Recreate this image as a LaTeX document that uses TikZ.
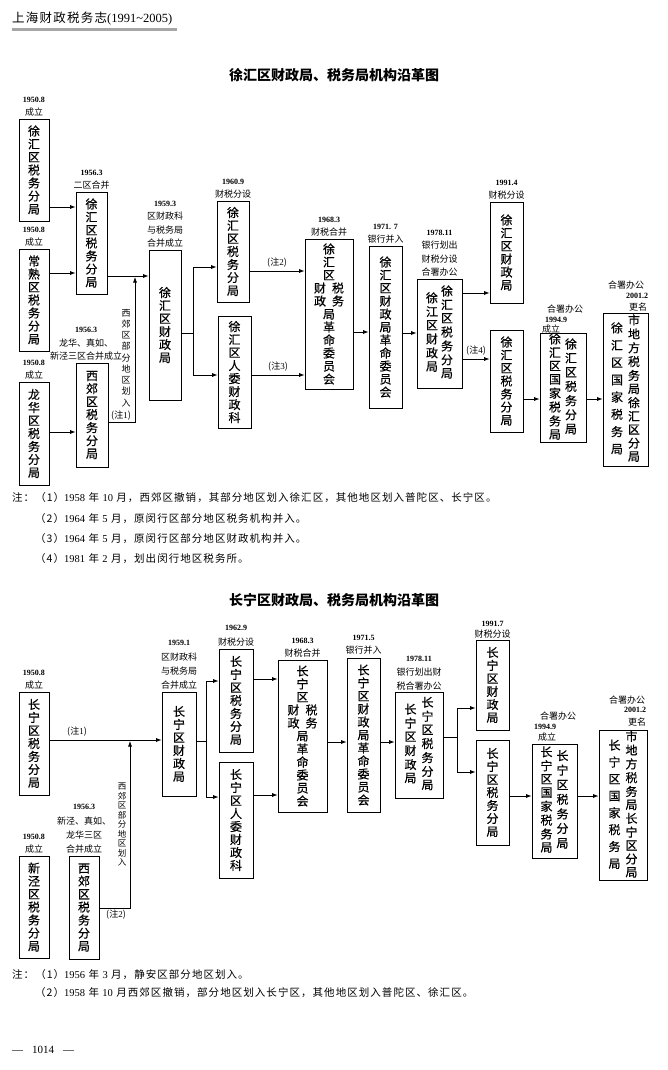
\documentclass[tikz,border=0pt]{standalone}
\usepackage{fontspec}
\setmainfont{Liberation Serif}
\newfontfamily\cjk{Noto Sans CJK SC}
\newfontfamily\cjkbox{Noto Sans CJK SC}[FakeBold=0.5]
\newfontfamily\cjknote{Noto Sans CJK SC}[LetterSpace=10]
\usetikzlibrary{positioning}
\usetikzlibrary{arrows.meta}

\newcommand{\rmd}[1]{{\rmfamily #1}}
\newcommand{\dt}[1]{{\rmfamily\bfseries\fontsize{8}{13}\selectfont #1}}
\newcommand{\vcol}[2][1]{{\renewcommand{\arraystretch}{#1}\begin{tabular}{@{}c@{}}#2\end{tabular}}}

\tikzset{
  office/.style 2 args={draw, line width=0.8pt, inner sep=0pt, align=center, minimum width=#1pt, minimum height=#2pt, font=\cjkbox\fontsize{12}{13}\selectfont},
  tag/.style={align=center, inner sep=0pt, font=\cjk\fontsize{9}{13.5}\selectfont},
  remark/.style={inner sep=0pt, font=\cjk\fontsize{9}{11}\selectfont},
  link/.style={line width=0.7pt, -{Latex[length=5.5pt,width=4pt]}},
  wire/.style={line width=0.7pt},
  notetext/.style={anchor=west, inner sep=0pt, font=\cjknote\fontsize{10.5}{12}\selectfont},
  heading/.style={inner sep=0pt, font=\cjk\bfseries\fontsize{14}{16}\selectfont}
}

\begin{document}
\begin{tikzpicture}[x=1pt, y=-1pt]

\fill[white] (0,0) rectangle (668,1070);
\useasboundingbox (0,0) rectangle (668,1070);

% Running head
\node[anchor=west, inner sep=0pt, font=\cjknote\fontsize{12.5}{14}\selectfont] (runhead) at (12,19) {上海财政税务志\rmd{(1991\textasciitilde 2005)}};
\fill[gray!70] (12,28.5) rectangle (177,31.5);

% ---------------- Xuhui ----------------
\node[heading] (xh_title) at (334,75) {徐汇区财政局、税务局机构沿革图};

% Column 1
\node[office={30}{102}] (xh_tax50) at (34,170) {徐\\汇\\区\\税\\务\\分\\局};
\node[office={30}{102}] (cs_tax) at (34,300) {常\\熟\\区\\税\\务\\分\\局};
\node[office={30}{103}] (lh_tax) at (34,433.5) {龙\\华\\区\\税\\务\\分\\局};
\node[tag, above=2pt of xh_tax50] (xh_tax50_date) {\dt{1950.8}\\成立};
\node[tag, above=2pt of cs_tax] (cs_tax_date) {\dt{1950.8}\\成立};
\node[tag, above=2pt of lh_tax] (lh_tax_date) {\dt{1950.8}\\成立};

% Column 2
\node[office={31}{102}] (xh_tax56) at (91.5,243) {徐\\汇\\区\\税\\务\\分\\局};
\node[office={32}{104}] (xj_tax) at (92,415) {西\\郊\\区\\税\\务\\分\\局};
\node[tag, above=2pt of xh_tax56] (xh_tax56_date) {\dt{1956.3}\\二区合并};
\node[tag, above=2pt of xj_tax, xshift=-6pt] (xj_tax_date) {\dt{1956.3}\\龙华、真如、\\新泾三区合并成立};

% Column 3
\node[office={32}{150}] (xh_fin59) at (165,325) {徐\\汇\\区\\财\\政\\局};
\node[tag, above=2pt of xh_fin59] (xh_fin59_date) {\dt{1959.3}\\区财政科\\与税务局\\合并成立};

% Column 4
\node[office={32}{101}] (xh_tax60) at (233,251.5) {徐\\汇\\区\\税\\务\\分\\局};
\node[office={33}{112}] (xh_rw) at (234.5,372) {徐\\汇\\区\\人\\委\\财\\政\\科};
\node[tag, above=2pt of xh_tax60] (xh_tax60_date) {\dt{1960.9}\\财税分设};

% Columns 5 to 7
\node[office={48}{150}] (xh_rev68) at (329,314) {徐\\汇\\区\\财\hspace{6pt}税\\政\hspace{6pt}务\\局\\革\\命\\委\\员\\会};
\node[office={33}{162}] (xh_rev71) at (385.5,327) {徐\\汇\\区\\财\\政\\局\\革\\命\\委\\员\\会};
\node[office={45}{109}] (xh_joint78) at (439.5,333.5) {\vcol{徐\\江\\区\\财\\政\\局}\hspace{3pt}\vcol{徐\\汇\\区\\税\\务\\分\\局}};
\node[tag, above=2pt of xh_rev68] (xh_rev68_date) {\dt{1968.3}\\财税合并};
\node[tag, above=2pt of xh_rev71] (xh_rev71_date) {\dt{1971. 7}\\银行并入};
\node[tag, above=2pt of xh_joint78] (xh_joint78_date) {\dt{1978.11}\\银行划出\\财税分设\\合署办公};

% Columns 8 to 10
\node[office={33}{101}] (xh_fin91) at (506.5,252.5) {徐\\汇\\区\\财\\政\\局};
\node[office={33}{102}] (xh_tax91) at (506.5,381) {徐\\汇\\区\\税\\务\\分\\局};
\node[office={46}{104}] (xh_joint94) at (563,388) {\vcol[0.98]{徐\\汇\\区\\国\\家\\税\\务\\局}\hspace{4pt}\vcol[1.08]{徐\\汇\\区\\税\\务\\分\\局}};
\node[office={45}{153}] (xh_joint01) at (625.5,389.5) {\vcol[1.33]{徐\\汇\\区\\国\\家\\税\\务\\局}\hspace{5pt}\vcol[0.97]{市\\地\\方\\税\\务\\局\\徐\\汇\\区\\分\\局}};
\node[tag, above=2pt of xh_fin91] (xh_fin91_date) {\dt{1991.4}\\财税分设};
\node[remark] (xh_joint94_a) at (565,309) {合署办公};
\node[remark] (xh_joint94_b) at (556,320) {\dt{1994.9}};
\node[remark] (xh_joint94_c) at (551,329) {成立};
\node[remark] (xh_joint01_a) at (626,285) {合署办公};
\node[remark] (xh_joint01_b) at (637,296) {\dt{2001.2}};
\node[remark] (xh_joint01_c) at (638,307) {更名};

% Connectors
\draw[link] (xh_tax50.east |- 0,207) -- (xh_tax56.west |- 0,207);
\draw[link] (cs_tax.east |- 0,273) -- (xh_tax56.west |- 0,273);
\draw[link] (lh_tax.east |- 0,432) -- (xj_tax.west |- 0,432);
\draw[link] (xh_tax56.east |- 0,276) -- (xh_fin59.west |- 0,276);
\coordinate (xh_merge) at (135,277);
\draw[link] (xj_tax.east |- 0,422) -| (xh_merge);
\node[remark, anchor=south] (xh_n1) at (121,420) {(注\rmd{1})};
\node[tag, font=\cjk\fontsize{9}{11.25}\selectfont] (xh_part) at (126,358) {西\\郊\\区\\部\\分\\地\\区\\划\\入};
\coordinate (xh_split59) at (193,333);
\draw[wire] (xh_fin59.east |- xh_split59) -- (xh_split59);
\draw[link] (xh_split59) |- (xh_tax60.west |- 0,267);
\draw[link] (xh_split59) |- (xh_rw.west |- 0,375);
\draw[link] (xh_tax60.east |- 0,271) -- node[remark, above=3pt] (xh_n2) {(注\rmd{2})} (xh_rev68.west |- 0,271);
\draw[link] (xh_rw.east |- 0,375) -- node[remark, above=3pt] (xh_n3) {(注\rmd{3})} (xh_rev68.west |- 0,375);
\draw[link] (xh_rev68.east |- 0,332) -- (xh_rev71.west |- 0,332);
\draw[link] (xh_rev71.east |- 0,333) -- (xh_joint78.west |- 0,333);
\draw[link] (xh_joint78.east |- 0,293) -- (xh_fin91.west |- 0,293);
\draw[link] (xh_joint78.east |- 0,359) -- node[remark, above=3pt] (xh_n4) {(注\rmd{4})} (xh_tax91.west |- 0,359);
\draw[link] (xh_tax91.east |- 0,399) -- (xh_joint94.west |- 0,399);
\draw[link] (xh_joint94.east |- 0,399) -- (xh_joint01.west |- 0,399);

% Notes
\node[notetext] (xh_note1) at (12,498) {注：（1）\rmd{1958} 年 \rmd{10} 月，西郊区撤销，其部分地区划入徐汇区，其他地区划入普陀区、长宁区。};
\node[notetext] (xh_note2) at (35,519) {（2）\rmd{1964} 年 \rmd{5} 月，原闵行区部分地区税务机构并入。};
\node[notetext] (xh_note3) at (35,539) {（3）\rmd{1964} 年 \rmd{5} 月，原闵行区部分地区财政机构并入。};
\node[notetext] (xh_note4) at (35,559) {（4）\rmd{1981} 年 \rmd{2} 月，划出闵行地区税务所。};

% ---------------- Changning ----------------
\node[heading] (cn_title) at (334,600) {长宁区财政局、税务局机构沿革图};

% Columns 1 and 2
\node[office={30}{103}] (cn_tax50) at (34,743.5) {长\\宁\\区\\税\\务\\分\\局};
\node[office={30}{102}] (xjing_tax) at (34,907) {新\\泾\\区\\税\\务\\分\\局};
\node[office={30}{103}] (xj_tax2) at (84,907.5) {西\\郊\\区\\税\\务\\分\\局};
\node[tag, above=2pt of cn_tax50] (cn_tax50_date) {\dt{1950.8}\\成立};
\node[tag, above=2pt of xjing_tax] (xjing_tax_date) {\dt{1950.8}\\成立};
\node[tag, above=2pt of xj_tax2, font=\cjk\fontsize{9}{14.3}\selectfont] (xj_tax2_date) {\dt{1956.3}\\新泾、真如、\\龙华三区\\合并成立};

% Columns 3 and 4
\node[office={34}{104}] (cn_fin59) at (179,744) {长\\宁\\区\\财\\政\\局};
\node[office={34}{103}] (cn_tax62) at (236,700.5) {长\\宁\\区\\税\\务\\分\\局};
\node[office={34}{116}] (cn_rw) at (236,820) {长\\宁\\区\\人\\委\\财\\政\\科};
\node[tag, above=2pt of cn_fin59, font=\cjk\fontsize{9}{14.3}\selectfont] (cn_fin59_date) {\dt{1959.1}\\区财政科\\与税务局\\合并成立};
\node[tag, above=2pt of cn_tax62, font=\cjk\fontsize{9}{15}\selectfont] (cn_tax62_date) {\dt{1962.9}\\财税分设};

% Columns 5 to 7
\node[office={49}{152}] (cn_rev68) at (302.5,736) {长\\宁\\区\\财\hspace{6pt}税\\政\hspace{6pt}务\\局\\革\\命\\委\\员\\会};
\node[office={33}{154}] (cn_rev71) at (363.5,735) {长\\宁\\区\\财\\政\\局\\革\\命\\委\\员\\会};
\node[office={48}{106}] (cn_joint78) at (419,745) {\vcol{长\\宁\\区\\财\\政\\局}\hspace{5pt}\vcol{长\\宁\\区\\税\\务\\分\\局}};
\node[tag, above=2pt of cn_rev68] (cn_rev68_date) {\dt{1968.3}\\财税合并};
\node[tag, above=3pt of cn_rev71] (cn_rev71_date) {\dt{1971.5}\\银行并入};
\node[tag, above=1pt of cn_joint78, font=\cjk\fontsize{9}{14.3}\selectfont] (cn_joint78_date) {\dt{1978.11}\\银行划出财\\税合署办公};

% Columns 8 to 10
\node[office={33}{90}] (cn_fin91) at (492.5,685) {长\\宁\\区\\财\\政\\局};
\node[office={33}{105}] (cn_tax91) at (492.5,792.5) {长\\宁\\区\\税\\务\\分\\局};
\node[office={45}{114}] (cn_joint94) at (554.5,801) {\vcol[0.97]{长\\宁\\区\\国\\家\\税\\务\\局}\hspace{4pt}\vcol[1.12]{长\\宁\\区\\税\\务\\分\\局}};
\node[office={48}{149}] (cn_joint01) at (623,805.5) {\vcol[1.3]{长\\宁\\区\\国\\家\\税\\务\\局}\hspace{5pt}\vcol[0.95]{市\\地\\方\\税\\务\\局\\长\\宁\\区\\分\\局}};
\node[tag, above=1.5pt of cn_fin91, font=\cjk\fontsize{9}{10.5}\selectfont] (cn_fin91_date) {\dt{1991.7}\\财税分设};
\node[remark] (cn_joint94_a) at (558,716) {合署办公};
\node[remark] (cn_joint94_b) at (545,727) {\dt{1994.9}};
\node[remark] (cn_joint94_c) at (547,737) {成立};
\node[remark] (cn_joint01_a) at (627,700) {合署办公};
\node[remark] (cn_joint01_b) at (635,710) {\dt{2001.2}};
\node[remark] (cn_joint01_c) at (637,722) {更名};

% Connectors
\draw[link] (cn_tax50.east |- 0,740) -- (cn_fin59.west |- 0,740);
\node[remark] (cn_n1) at (77,732) {(注\rmd{1})};
\coordinate (cn_merge) at (130,741);
\draw[link] (xj_tax2.east |- 0,908) -| (cn_merge);
\node[remark, anchor=north] (cn_n2) at (116,910) {(注\rmd{2})};
\node[tag, font=\cjk\fontsize{8.5}{9.5}\selectfont] (cn_part) at (122,825) {西\\郊\\区\\部\\分\\地\\区\\划\\入};
\coordinate (cn_split59) at (206,741);
\draw[wire] (cn_fin59.east |- cn_split59) -- (cn_split59);
\draw[link] (cn_split59) |- (cn_tax62.west |- 0,681);
\draw[link] (cn_split59) |- (cn_rw.west |- 0,797);
\draw[link] (cn_tax62.east |- 0,679) -- (cn_rev68.west |- 0,679);
\draw[link] (cn_rw.east |- 0,795) -- (cn_rev68.west |- 0,795);
\draw[link] (cn_rev68.east |- 0,742) -- (cn_rev71.west |- 0,742);
\draw[link] (cn_rev71.east |- 0,742) -- (cn_joint78.west |- 0,742);
\coordinate (cn_split78) at (457,737);
\draw[wire] (cn_joint78.east |- cn_split78) -- (cn_split78);
\draw[link] (cn_split78) |- (cn_fin91.west |- 0,708);
\draw[link] (cn_split78) |- (cn_tax91.west |- 0,772);
\draw[link] (cn_tax91.east |- 0,796) -- (cn_joint94.west |- 0,796);
\draw[link] (cn_joint94.east |- 0,796) -- (cn_joint01.west |- 0,796);

% Notes
\node[notetext] (cn_note1) at (12,975) {注：（1）\rmd{1956} 年 \rmd{3} 月，静安区部分地区划入。};
\node[notetext] (cn_note2) at (35,993) {（2）\rmd{1958} 年 \rmd{10} 月西郊区撤销，部分地区划入长宁区，其他地区划入普陀区、徐汇区。};

% Folio
\node[anchor=west, inner sep=0pt, font=\rmfamily\fontsize{11}{13}\selectfont] (folio) at (12,1050) {—\hspace{9pt}1014\hspace{9pt}—};

\end{tikzpicture}
\end{document}
